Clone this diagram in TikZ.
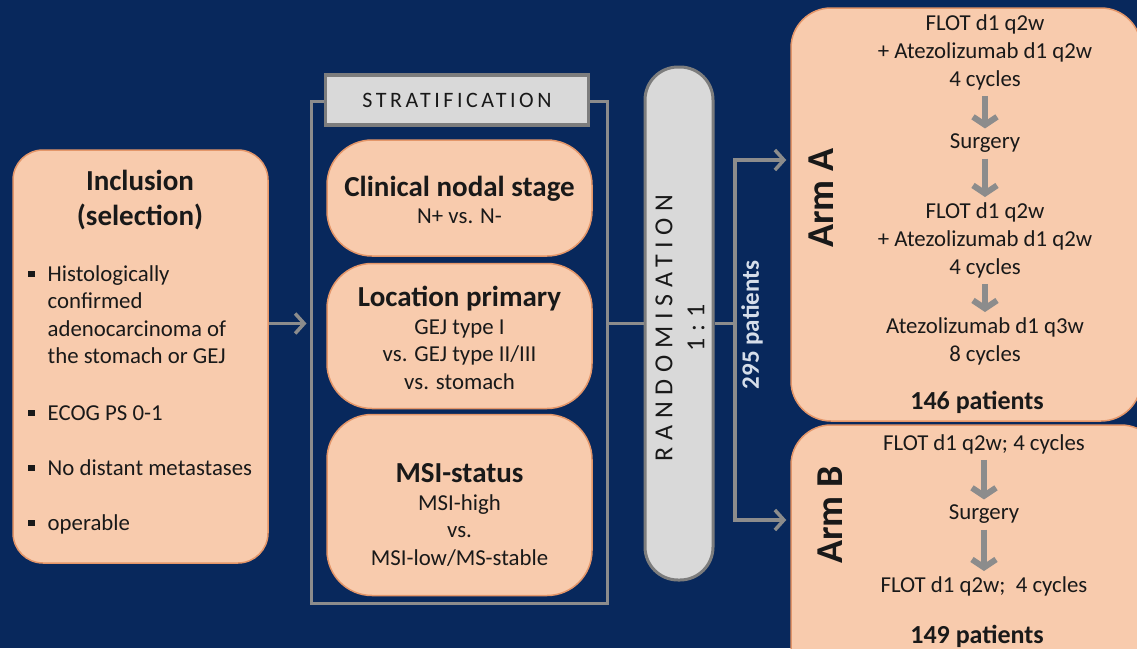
\documentclass[tikz,border=0pt]{standalone}
\usepackage{fontspec}
\setmainfont{Carlito}
\usetikzlibrary{arrows.meta}
\definecolor{bg}{RGB}{8,40,92}
\definecolor{peach}{RGB}{248,203,173}
\definecolor{peachline}{RGB}{228,150,105}
\definecolor{lgray}{RGB}{217,217,217}
\definecolor{mgray}{RGB}{140,140,140}
\definecolor{dgray}{RGB}{125,125,125}
\definecolor{txt}{RGB}{25,25,25}
\definecolor{lighttxt}{RGB}{214,222,234}
\newcommand\myBody{\fontsize{22.8}{27.5}\selectfont}
\newcommand\myTitle{\fontsize{29}{35}\selectfont\bfseries}
\newcommand\myBul{\llap{\raisebox{4pt}{\rule{6.5pt}{6.5pt}}\hspace{13pt}}}
\tikzset{
  peachbox/.style={draw=peachline, line width=1.5pt, fill=peach, rounded corners=#1, inner sep=0pt},
  peachbox/.default=30pt,
  graybox/.style={draw=dgray, line width=3.5pt, fill=lgray, inner sep=0pt},
  txtnode/.style={text=txt, inner sep=0pt, font=\myBody, align=center},
  gline/.style={draw=mgray, line width=3.5pt},
  harr/.style={gline, -{Straight Barb[length=9pt, width=20pt]}},
  darr/.style={draw=mgray, line width=6pt, -{Straight Barb[length=8pt, width=24pt]}, shorten <=6pt, shorten >=5pt},
}
\begin{document}
\begin{tikzpicture}[x=1pt, y=-1pt]
\fill[bg] (0,0) rectangle (1137,648);
\useasboundingbox (0,0) rectangle (1137,648);
\begin{scope}
\clip (0,0) rectangle (1137,648);

% Inclusion
\node[peachbox, minimum width=255pt, minimum height=413pt] (inc) at (140.5,356.5) {};
\node[txtnode, font=\myTitle] (inct) at (140,200) {Inclusion\\(selection)};
\node[txtnode, anchor=north west, align=left] (b1) at (47.5,265) {\myBul Histologically\\confirmed\\adenocarcinoma of\\the stomach or GEJ};
\node[txtnode, anchor=base west] (b2) at (47.5,420) {\myBul ECOG PS 0-1};
\node[txtnode, anchor=base west] (b3) at (47.5,475) {\myBul No distant metastases};
\node[txtnode, anchor=base west] (b4) at (47.5,530) {\myBul operable};

% Stratification bracket
\node[gline, line width=3pt, minimum width=296pt, minimum height=502pt, inner sep=0pt] (strat) at (459,352) {};
\node[graybox, minimum width=263pt, minimum height=50pt] (stratl) at (457,100)
  {\fontsize{22}{26}\selectfont\addfontfeature{LetterSpace=16}\color{txt}STRATIFICATION};

\node[peachbox=45pt, minimum width=265pt, minimum height=116pt] (s1) at (459.5,198) {};
\node[txtnode] (s1t) at (459.5,200) {{\myTitle Clinical nodal stage}\\N+ vs. N-};
\node[peachbox=45pt, minimum width=265pt, minimum height=145pt] (s2) at (459.5,336) {};
\node[txtnode] (s2t) at (459.5,338) {{\myTitle Location primary}\\GEJ type I\\vs. GEJ type II/III\\vs. stomach};
\node[peachbox=45pt, minimum width=265pt, minimum height=181pt] (s3) at (459.5,505) {};
\node[txtnode] (s3t) at (459.5,515) {{\myTitle MSI-status}\\MSI-high\\vs.\\MSI-low/MS-stable};

% Randomisation
\node[graybox, line width=3pt, rounded corners=33pt, minimum width=68pt, minimum height=513pt] (rand) at (679,323.5) {};
\node[txtnode, rotate=90, font={\fontsize{26}{32}\selectfont\addfontfeature{LetterSpace=26}}] (randt) at (680,328)
  {RANDOMISATION\\1:1};

% Arms
\node[peachbox=40pt, minimum width=350pt, minimum height=413pt] (armA) at (966,214.5) {};
\node[peachbox=40pt, minimum width=370pt, minimum height=270pt] (armB) at (976,560) {};
\node[txtnode, rotate=90, font=\fontsize{38}{40}\selectfont\bfseries] (armAt) at (821,198) {Arm A};
\node[txtnode, rotate=90, font=\fontsize{38}{40}\selectfont\bfseries] (armBt) at (830,515) {Arm B};

\node[txtnode, font=\fontsize{22.8}{28}\selectfont] (a1) at (985,52) {FLOT d1 q2w\\+ Atezolizumab d1 q2w\\4 cycles};
\node[txtnode] (a2) at (985,143) {Surgery};
\node[txtnode, font=\fontsize{22.8}{28}\selectfont] (a3) at (985,240) {FLOT d1 q2w\\+ Atezolizumab d1 q2w\\4 cycles};
\node[txtnode, font=\fontsize{22.8}{28}\selectfont] (a4) at (985,341) {Atezolizumab d1 q3w\\8 cycles};
\node[txtnode, font=\fontsize{26}{30}\selectfont\bfseries] (a5) at (977,402) {146 patients};
\draw[darr] (a1) -- (a2);
\draw[darr] (a2) -- (a3);
\draw[darr] (a3) -- (a4);

\node[txtnode] (bb1) at (984,444) {FLOT d1 q2w; 4 cycles};
\node[txtnode] (bb2) at (984,514) {Surgery};
\node[txtnode] (bb3) at (984,586) {FLOT d1 q2w;\ \ 4 cycles};
\node[txtnode, font=\fontsize{26}{30}\selectfont\bfseries] (bb4) at (977,636) {149 patients};
\draw[darr] (bb1) -- (bb2);
\draw[darr] (bb2) -- (bb3);

% connectors
\coordinate (split) at (735,323.5);
\draw[harr] (inc.east |- rand.center) -- ([xshift=-3pt]strat.west |- rand.center);
\draw[gline] (strat.east |- rand.center) -- (rand.west);
\draw[gline] (rand.east) -- (split);
\draw[harr, shorten >=4pt] (split) |- ([yshift=54.5pt]armA.west);
\draw[harr, shorten >=4pt] (split) |- ([yshift=40pt]armB.west);
\node[inner sep=0pt, rotate=90, text=lighttxt, font=\fontsize{25}{30}\selectfont\bfseries] (pat) at (752,325) {295 patients};
\end{scope}
\end{tikzpicture}
\end{document}
